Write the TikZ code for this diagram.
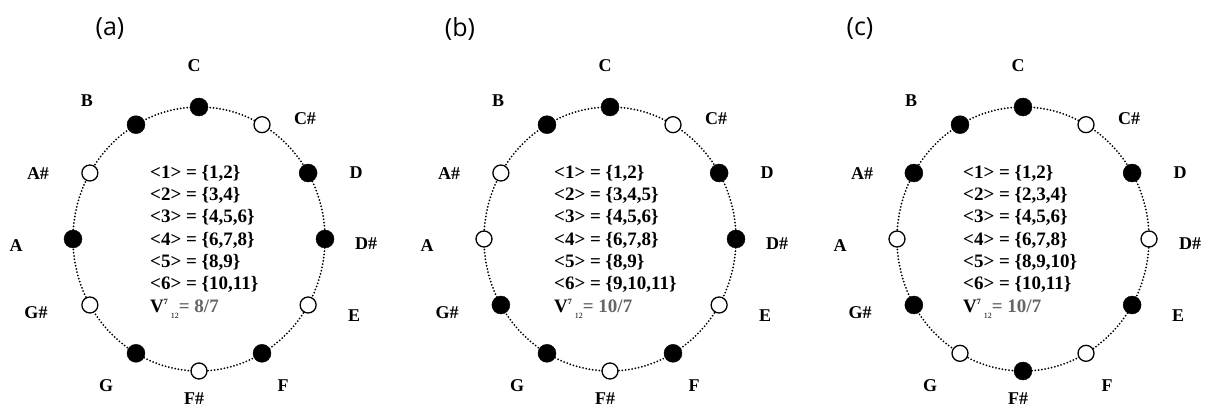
\documentclass[tikz,border=0pt]{standalone}
\usepackage{fontspec}
\setmainfont{Liberation Serif}
\newfontfamily\panelfont{Open Sans}
\usetikzlibrary{positioning}

\tikzset{
  notename/.style={font=\bfseries\fontsize{18}{18}\selectfont, inner sep=0pt},
  fulldot/.style={circle, draw=black, fill=black, inner sep=0pt, minimum size=18pt},
  opendot/.style={circle, draw=black, fill=white, line width=1.3pt, inner sep=0pt, minimum size=16pt},
  ring/.style={line width=2pt, dash pattern=on 0pt off 3.3pt, line cap=round},
  sets/.style={font=\bfseries\fontsize{19}{22.3}\selectfont, align=left, inner sep=0pt, anchor=north west},
  panel/.style={font=\panelfont\fontsize{25}{25}\selectfont, inner sep=0pt}
}
\newcommand{\vratio}[1]{V\raisebox{8pt}{\fontsize{8}{8}\selectfont 7}\hspace{3pt}\raisebox{-6pt}{\fontsize{8}{8}\selectfont\mdseries 12}\color{black!60} = #1}

\begin{document}
\begin{tikzpicture}[x=1pt, y=-1pt]
\useasboundingbox (0,0) rectangle (1205,411);

% (a)
\node[panel] (pa) at (110,29) {(a)};
\begin{scope}[shift={(199,239)}]
  \draw[ring] (0,0) ellipse (126pt and 132pt);
  \foreach \n/\t/\dx/\dy in {C/C/-5/-173, Cs/C\#/106/-120, D/D/157/-66, Ds/D\#/167/5, E/E/155/77, F/F/84/147, Fs/F\#/-5/160, G/G/-93/147, Gs/G\#/-163/74, A/A/-183/7, As/A\#/-161/-65, B/B/-112/-138}
    \node[notename] (a-\n-lab) at (\dx,\dy) {\t};
  \foreach \n/\k/\s in {C/0/fulldot, Cs/1/opendot, D/2/fulldot, Ds/3/fulldot, E/4/opendot, F/5/fulldot, Fs/6/opendot, G/7/fulldot, Gs/8/opendot, A/9/fulldot, As/10/opendot, B/11/fulldot}
    \node[\s] (a-\n) at ({126*sin(30*\k)}, {-132*cos(30*\k)}) {};
  \node[sets] (a-sets) at (-49,-74) {<1> = \{1,2\}\\<2> = \{3,4\}\\<3> = \{4,5,6\}\\<4> = \{6,7,8\}\\<5> = \{8,9\}\\<6> = \{10,11\}\\\vratio{8/7}};
\end{scope}

% (b)
\node[panel] (pb) at (460,29) {(b)};
\begin{scope}[shift={(610,239)}]
  \draw[ring] (0,0) ellipse (126pt and 132pt);
  \foreach \n/\t/\dx/\dy in {C/C/-5/-173, Cs/C\#/106/-120, D/D/157/-66, Ds/D\#/167/5, E/E/155/77, F/F/84/147, Fs/F\#/-5/160, G/G/-93/147, Gs/G\#/-163/74, A/A/-183/7, As/A\#/-161/-65, B/B/-112/-138}
    \node[notename] (b-\n-lab) at (\dx,\dy) {\t};
  \foreach \n/\k/\s in {C/0/fulldot, Cs/1/opendot, D/2/fulldot, Ds/3/fulldot, E/4/opendot, F/5/fulldot, Fs/6/opendot, G/7/fulldot, Gs/8/fulldot, A/9/opendot, As/10/opendot, B/11/fulldot}
    \node[\s] (b-\n) at ({126*sin(30*\k)}, {-132*cos(30*\k)}) {};
  \node[sets] (b-sets) at (-56,-74) {<1> = \{1,2\}\\<2> = \{3,4,5\}\\<3> = \{4,5,6\}\\<4> = \{6,7,8\}\\<5> = \{8,9\}\\<6> = \{9,10,11\}\\\vratio{10/7}};
\end{scope}

% (c)
\node[panel] (pc) at (860,29) {(c)};
\begin{scope}[shift={(1023,239)}]
  \draw[ring] (0,0) ellipse (126pt and 132pt);
  \foreach \n/\t/\dx/\dy in {C/C/-5/-173, Cs/C\#/106/-120, D/D/157/-66, Ds/D\#/167/5, E/E/155/77, F/F/84/147, Fs/F\#/-5/160, G/G/-93/147, Gs/G\#/-163/74, A/A/-183/7, As/A\#/-161/-65, B/B/-112/-138}
    \node[notename] (c-\n-lab) at (\dx,\dy) {\t};
  \foreach \n/\k/\s in {C/0/fulldot, Cs/1/opendot, D/2/fulldot, Ds/3/opendot, E/4/fulldot, F/5/opendot, Fs/6/fulldot, G/7/opendot, Gs/8/fulldot, A/9/opendot, As/10/fulldot, B/11/fulldot}
    \node[\s] (c-\n) at ({126*sin(30*\k)}, {-132*cos(30*\k)}) {};
  \node[sets] (c-sets) at (-60,-74) {<1> = \{1,2\}\\<2> = \{2,3,4\}\\<3> = \{4,5,6\}\\<4> = \{6,7,8\}\\<5> = \{8,9,10\}\\<6> = \{10,11\}\\\vratio{10/7}};
\end{scope}
\end{tikzpicture}
\end{document}
